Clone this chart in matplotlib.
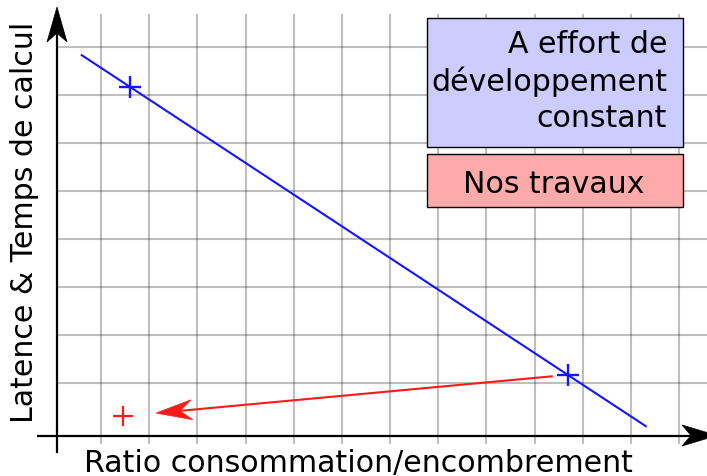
import numpy as np
import matplotlib
matplotlib.use("Agg")
import matplotlib.pyplot as plt
from matplotlib.patches import Polygon, Rectangle
from matplotlib.transforms import Affine2D

# values in grid units (one unit = one grid cell)
trend_x = [0.60, 12.31]
trend_y = [7.83, 0.10]
constant_effort_x = [1.60, 10.69]
constant_effort_y = [7.17, 1.17]
our_work_x = [1.46]
our_work_y = [0.31]

x_label = "Ratio consommation/encombrement"
y_label = "Latence & Temps de calcul"
blue_label = "A effort de\ndéveloppement\nconstant"
red_label = "Nos travaux"

W, H, DPI = 707, 477, 100
GRID_X = np.arange(1, 14)
GRID_Y = np.arange(1, 9)
CELL_X, CELL_Y = 48.17, 48.0
FS = 21.6

plt.rcParams['font.family'] = ['DejaVu Sans']

fig = plt.figure(figsize=(W / DPI, H / DPI), dpi=DPI)
ax = fig.add_axes([0, 0, 1, 1])
ax.set_axis_off()
# pixel 101 -> x=1, pixel row 432 -> y=1 (rows counted from top)
ax.set_xlim(1 - 101 / CELL_X, 1 + (W - 101) / CELL_X)
ax.set_ylim((432 - H) / CELL_Y, 432 / CELL_Y)

x_axis_pos = (432 - 436.5) / CELL_Y
y_axis_pos = 1 + (57 - 101) / CELL_X


def stealth_head(tip_disp, angle, length, width, notch, color):
    verts = [(0, 0), (-length, width / 2), (-length + notch, 0), (-length, -width / 2)]
    tr = Affine2D().rotate(angle).translate(*tip_disp)
    ax.add_patch(Polygon(verts, closed=True, transform=tr, facecolor=color,
                         edgecolor=color, lw=0.5, zorder=6))


def arrow_line(p0, p1, color, lw, length, width, notch, shrink0=0, shrink1=0):
    a = ax.transData.transform(p0)
    b = ax.transData.transform(p1)
    d = b - a
    u = d / np.hypot(*d)
    a = a + u * shrink0
    b = b - u * shrink1
    back = b - u * (length - notch)
    inv = ax.transData.inverted()
    s, e = inv.transform(a), inv.transform(back)
    ax.plot([s[0], e[0]], [s[1], e[1]], color=color, lw=lw, solid_capstyle='butt', zorder=5)
    stealth_head(b, np.arctan2(u[1], u[0]), length, width, notch, color)


# grid
grid_kw = dict(color='black', alpha=0.25, lw=1.5, zorder=1)
ax.vlines(GRID_X, (432 - 445) / CELL_Y, (432 - 15) / CELL_Y, **grid_kw)
ax.hlines(GRID_Y, y_axis_pos, ax.get_xlim()[1], **grid_kw)

# axes with arrow heads
arrow_line((1 + (37 - 101) / CELL_X, x_axis_pos), (1 + (717 - 101) / CELL_X, x_axis_pos),
           'black', 1.6, 35, 21, 9)
ax.plot([y_axis_pos, y_axis_pos], [(432 - 453) / CELL_Y, 0.0], color='black', lw=1.6, zorder=5)
arrow_line((y_axis_pos, 0.0), (y_axis_pos, (432 - 8) / CELL_Y), 'black', 1.6, 35, 20, 9)

# data
ax.plot(trend_x, trend_y, color='#1414ff', lw=1.5, zorder=4)
ax.plot(constant_effort_x, constant_effort_y, ls='none', marker='+', ms=16, mew=1.7,
        color='#1414ff', zorder=4)
ax.plot(our_work_x, our_work_y, ls='none', marker='+', ms=15, mew=1.6,
        color='#ff1a1a', zorder=4)
arrow_line((constant_effort_x[1], constant_effort_y[1]), (our_work_x[0], our_work_y[0]),
           '#ff1a1a', 1.5, 36, 20, 12, shrink0=15, shrink1=33)

# legend boxes
fig.patches.append(Rectangle((427 / W, 1 - 148 / H), 256 / W, 129 / H, transform=fig.transFigure,
                             facecolor='#ccccff', edgecolor='black', lw=1.0, zorder=7))
fig.patches.append(Rectangle((427 / W, 1 - 208 / H), 256 / W, 53 / H, transform=fig.transFigure,
                             facecolor='#ffaaaa', edgecolor='black', lw=1.0, zorder=7))
fig.text(667 / W, 1 - 30 / H, blue_label, ha='right', va='top', multialignment='right',
         fontsize=FS, linespacing=1.31, zorder=8)
fig.text(554 / W, 1 - 193 / H, red_label, ha='center', va='baseline', fontsize=FS, zorder=8)

# axis titles
fig.text(358 / W, 1 - 472 / H, x_label, ha='center', va='baseline', fontsize=FS)
fig.text(33 / W, 1 - 222.5 / H, y_label, ha='center', va='baseline', rotation=90,
         rotation_mode='anchor', fontsize=FS)

fig.savefig('out.png', dpi=DPI)
